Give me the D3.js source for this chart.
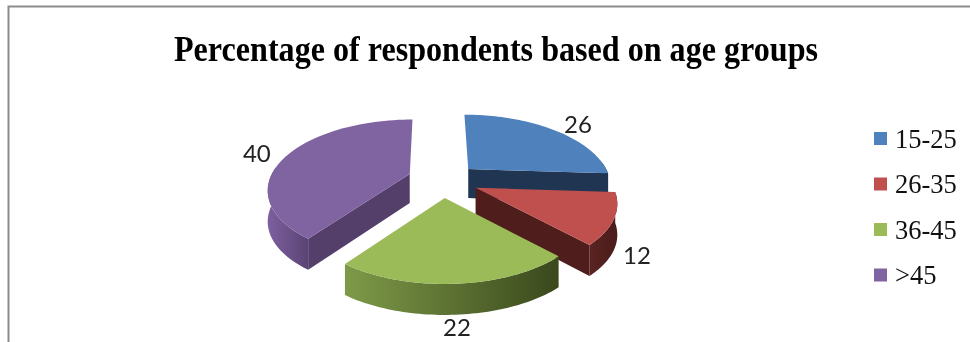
<!DOCTYPE html>
<html><head><meta charset="utf-8"><script src="https://cdn.jsdelivr.net/npm/d3@7"></script>
<style>html,body{margin:0;padding:0;background:#fff}svg{display:block;filter:blur(.5px)}</style></head>
<body><svg id="c" width="970" height="342"></svg>
<script>
const titleText = "Percentage of respondents based on age groups";
const categories = ["15-25","26-35","36-45",">45"];
const values = [26,12,22,40];
const topColors = ["#4f81bd","#c0504d","#9bbb59","#8064a2"];
const cutColors = ["#1f3552","#4f1e1c","#3f5020","#543f6b"];
const wallLight = ["#2c4a70","#5a2422","#7e9a48","#7d5f9e"];
const wallDark = ["#1f3552","#4a1c1a","#3a481c","#5a4474"];
const labelShift = [[25,-6],[23,36],[1,43],[-31,-2]];
const apexNudge = [[1,1.5],[2,0],[1.5,0],[3,-0.5]];
const sliceScale = [.985,.985,1,.985];
const sliceShear = [.07,.03,0,-.05];

const W=970,H=342, cx=441, cy=180, R=140, K=.48, P=.217, explode=36, depth=31;
const svg=d3.select("#c");
const defs=svg.append("defs");
const pie=d3.pie().sort(null).value(d=>d)(values);
const proj=(a)=>{const X=Math.sin(a),Y=-Math.cos(a),d=1-P*Y;return [R*X/d,R*K*Y/d];};
const line=d3.line();

// frame: left and top rules only
svg.append("path").attr("d",`M8.5 ${H} V6.5 H${W}`).attr("fill","none").attr("stroke","#8c8c8c").attr("stroke-width",2);

svg.append("text").attr("x",496).attr("y",61).attr("text-anchor","middle")
  .attr("textLength",644).attr("lengthAdjust","spacingAndGlyphs")
  .attr("font-family","'Liberation Serif',serif").attr("font-weight","bold").attr("font-size",35)
  .attr("fill","#000").text(titleText);

const slices=pie.map((p,i)=>{
  const m=(p.startAngle+p.endAngle)/2;
  const ax=cx+explode*Math.sin(m)+apexNudge[i][0], ay=cy-explode*K*1.05*Math.cos(m)+apexNudge[i][1];
  const pt=(a)=>{const q=proj(a),s=sliceScale[i],y=q[1]*s;return [ax+q[0]*s+sliceShear[i]*y,ay+y];};
  const arcA=d3.range(0,61).map(t=>p.startAngle+(p.endAngle-p.startAngle)*t/60);
  return {p,i,m,ax,ay,pt,arcA};
});

// draw order: back to front
[0,3,1,2].forEach(i=>{
  const s=slices[i],g=svg.append("g"),{p,pt,arcA,ax,ay}=s;
  const apex=[ax,ay], apexB=[ax,ay+depth-2];
  const down=(a)=>{const q=pt(a);return [q[0],q[1]+depth];};
  const vis=arcA.filter(a=>Math.cos(a)<0.12);
  if(vis.length>1){
    const id="w"+i, xs=vis.map(a=>pt(a)[0]);
    const gr=defs.append("linearGradient").attr("id",id).attr("gradientUnits","userSpaceOnUse")
      .attr("x1",d3.min(xs)).attr("x2",d3.max(xs)).attr("y1",0).attr("y2",0);
    gr.append("stop").attr("offset",0).attr("stop-color",wallLight[i]);
    gr.append("stop").attr("offset",1).attr("stop-color",wallDark[i]);
    g.append("path").attr("fill",`url(#${id})`)
      .attr("d",line(vis.map(a=>pt(a)).concat(vis.slice().reverse().map(down)))+"Z");
  }
  const wall=(a)=>line([apex,pt(a),down(a),apexB])+"Z";
  if(i===0||i===1) g.append("path").attr("fill",cutColors[i]).attr("d",wall(p.endAngle));
  if(i===3) g.append("path").attr("fill",cutColors[i]).attr("d",wall(p.startAngle));
  g.append("path").attr("fill",topColors[i])
    .attr("d",line([apex].concat(arcA.map(a=>pt(a))))+"Z");
});

slices.forEach((s,i)=>{
  const q=s.pt(s.m);
  svg.append("text").attr("x",q[0]+labelShift[i][0]).attr("y",q[1]+labelShift[i][1]+9)
    .attr("text-anchor","middle").attr("font-family","Lato,'Open Sans',sans-serif")
    .attr("font-size",24).attr("fill","#222").text(values[i]);
});

const ly=d3.scalePoint().domain(categories).range([138.5,275]);
const lg=svg.append("g").selectAll("g").data(categories).join("g")
  .attr("transform",d=>`translate(0,${ly(d)})`);
lg.append("rect").attr("x",874).attr("y",-6.5).attr("width",13).attr("height",13)
  .attr("fill",(d,i)=>topColors[i]);
lg.append("text").attr("x",895).attr("y",9).attr("font-family","'Liberation Serif',serif")
  .attr("font-size",26.5).attr("fill","#111").text(d=>d);
</script></body></html>
